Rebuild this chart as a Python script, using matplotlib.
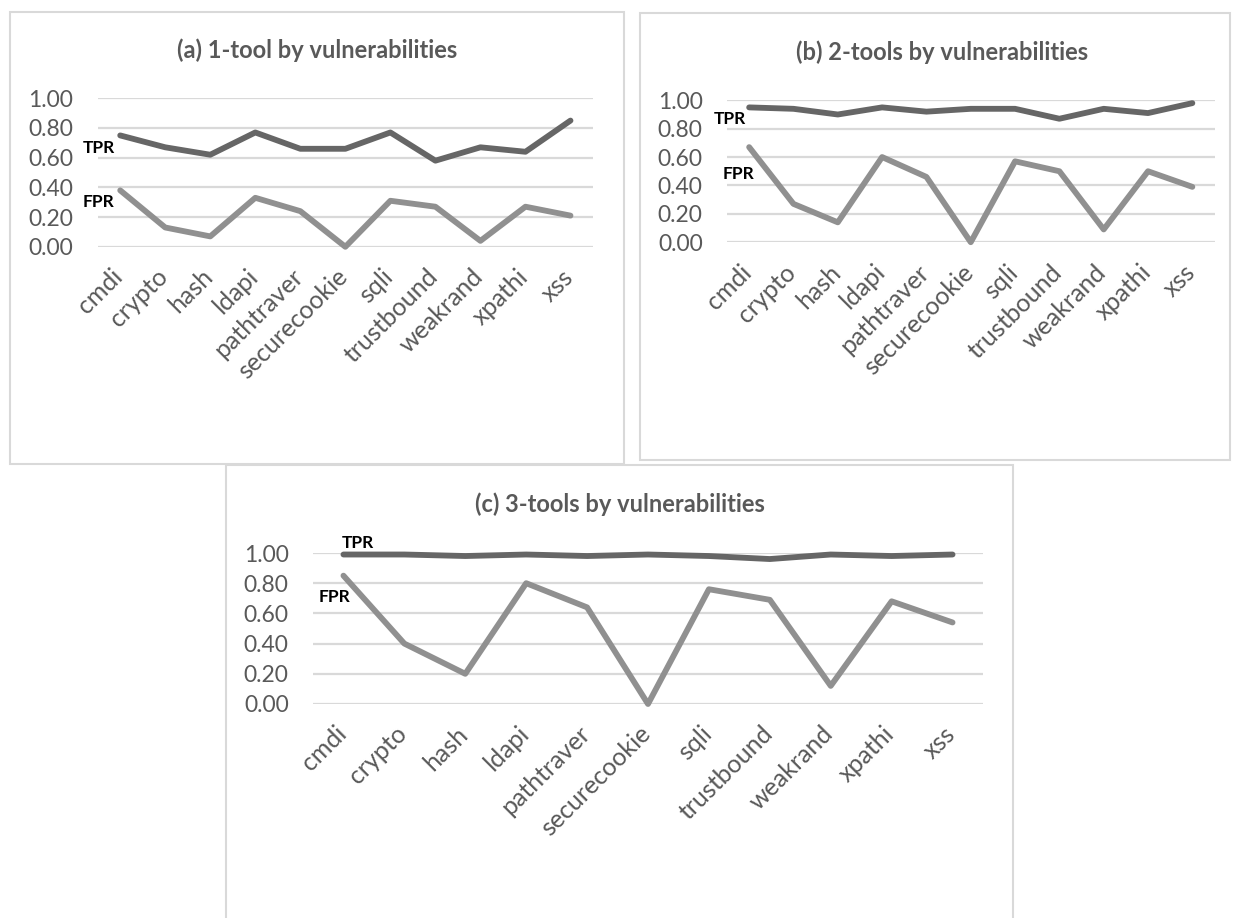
import matplotlib
matplotlib.use("Agg")
import matplotlib.pyplot as plt
from matplotlib.patches import Rectangle
import matplotlib.transforms as mtransforms

# ---- data -------------------------------------------------------------
categories = ["cmdi", "crypto", "hash", "ldapi", "pathtraver", "securecookie",
              "sqli", "trustbound", "weakrand", "xpathi", "xss"]

tpr_1tool = [0.75, 0.67, 0.62, 0.77, 0.66, 0.66, 0.77, 0.58, 0.67, 0.64, 0.85]
fpr_1tool = [0.38, 0.13, 0.07, 0.33, 0.24, 0.00, 0.31, 0.27, 0.04, 0.27, 0.21]

tpr_2tools = [0.95, 0.94, 0.90, 0.95, 0.92, 0.94, 0.94, 0.87, 0.94, 0.91, 0.98]
fpr_2tools = [0.67, 0.27, 0.14, 0.60, 0.46, 0.00, 0.57, 0.50, 0.09, 0.50, 0.39]

tpr_3tools = [0.99, 0.99, 0.98, 0.99, 0.98, 0.99, 0.98, 0.96, 0.99, 0.98, 0.99]
fpr_3tools = [0.85, 0.40, 0.20, 0.80, 0.64, 0.00, 0.76, 0.69, 0.12, 0.68, 0.54]

titles = ["(a) 1-tool by vulnerabilities",
          "(b) 2-tools by vulnerabilities",
          "(c) 3-tools by vulnerabilities"]
y_ticks = [0.0, 0.2, 0.4, 0.6, 0.8, 1.0]

# ---- style ------------------------------------------------------------
W, H = 1234, 918
FONT = ["Lato", "DejaVu Sans"]
TXT = "#595959"
GRID = "#d9d9d9"
C_TPR = "#666666"
C_FPR = "#909090"

plt.rcParams["font.family"] = FONT

fig = plt.figure(figsize=(W / 100, H / 100), dpi=100)
fig.patch.set_facecolor("white")


def fx(x):
    return x / W


def fy(y):
    return 1 - y / H


def add_box(x0, y0, x1, y1):
    fig.patches.append(Rectangle((fx(x0), fy(y1)), fx(x1) - fx(x0), fy(y0) - fy(y1),
                                 transform=fig.transFigure, fill=False,
                                 edgecolor=GRID, linewidth=1.5, zorder=0))


def panel(box, grid_px, title, title_xy, tpr, fpr, tpr_lbl, fpr_lbl):
    add_box(*box)
    gx0, gy_top, gx1, gy_bot = grid_px
    ax = fig.add_axes([fx(gx0), fy(gy_bot), fx(gx1) - fx(gx0), fy(gy_top) - fy(gy_bot)])
    ax.set_facecolor("none")
    x = list(range(len(categories)))
    ax.plot(x, fpr, color=C_FPR, lw=4.2, solid_joinstyle="round",
            solid_capstyle="round", clip_on=False, zorder=3)
    ax.plot(x, tpr, color=C_TPR, lw=4.2, solid_joinstyle="round",
            solid_capstyle="round", clip_on=False, zorder=4)
    ax.set_xlim(-0.5, len(categories) - 0.5)
    ax.set_ylim(0, 1)
    ax.set_yticks(y_ticks)
    ax.set_yticklabels([f"{v:.2f}" for v in y_ticks])
    ax.yaxis.grid(True, color=GRID, lw=1.6, zorder=0)
    ax.set_axisbelow(True)
    for s in ax.spines.values():
        s.set_visible(False)
    ax.tick_params(axis="y", length=0, pad=17.5, labelsize=16.5, labelcolor=TXT)
    ax.tick_params(axis="x", length=0, pad=13, labelsize=18, labelcolor=TXT)
    ax.set_xticks(x)
    ax.set_xticklabels(categories, rotation=45, ha="right", va="top")
    shift = mtransforms.ScaledTranslation(7 / 100, 0, fig.dpi_scale_trans)
    for lab in ax.get_xticklabels():
        lab.set_transform(lab.get_transform() + shift)
    fig.text(fx(title_xy[0]), fy(title_xy[1]), title, ha="center", va="center",
             fontsize=17, fontweight="bold", color=TXT)
    fig.text(fx(tpr_lbl[0]), fy(tpr_lbl[1]), "TPR", ha="center", va="baseline",
             fontsize=12.5, fontweight="bold", color="black")
    fig.text(fx(fpr_lbl[0]), fy(fpr_lbl[1]), "FPR", ha="center", va="baseline",
             fontsize=12.5, fontweight="bold", color="black")
    return ax


panel((10, 12, 624, 464), (97.7, 98.3, 593, 246.8), titles[0], (317, 50),
      tpr_1tool, fpr_1tool, (98.5, 153), (98.3, 207.3))
panel((640, 13, 1230, 460), (727, 100.3, 1214.5, 242.2), titles[1], (942.5, 52.5),
      tpr_2tools, fpr_2tools, (730, 124.3), (738.5, 179))
panel((226, 465, 1013, 925), (313, 553, 983, 704), titles[2], (620, 504),
      tpr_3tools, fpr_3tools, (358, 548.3), (334, 602))

fig.savefig("out.png", dpi=100, facecolor="white")
